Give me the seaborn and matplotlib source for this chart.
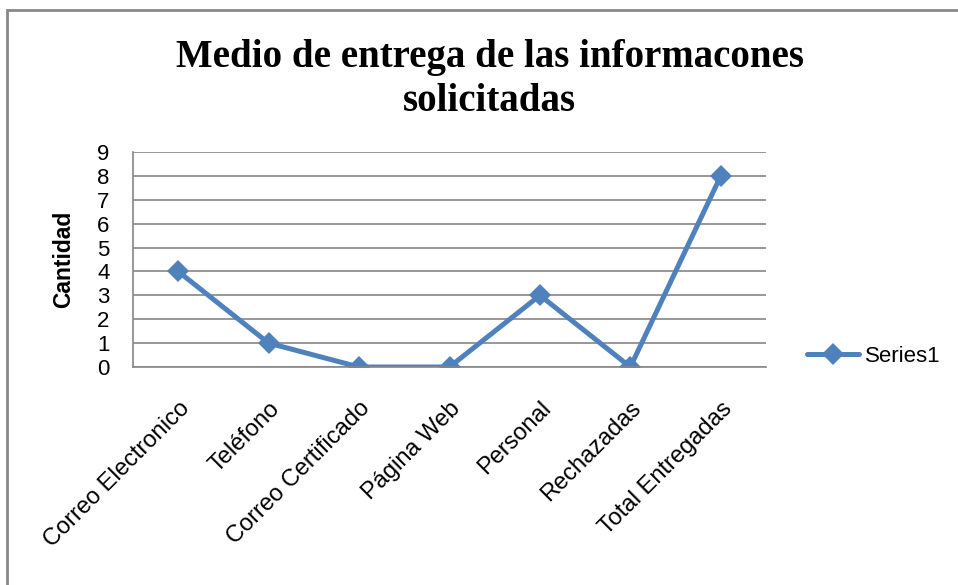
import seaborn as sns
import matplotlib.pyplot as plt
from matplotlib.patches import Rectangle

categorias = ["Correo Electronico", "Teléfono", "Correo Certificado", "Página Web",
              "Personal", "Rechazadas", "Total Entregadas"]
cantidad = [4, 1, 0, 0, 3, 0, 8]

sns.set_style("white")
plt.rcParams['font.family'] = ['Liberation Sans', 'DejaVu Sans']
plt.rcParams.update({"text.color": "black", "axes.labelcolor": "black",
                     "xtick.color": "black", "ytick.color": "black"})

fig = plt.figure(figsize=(9.58, 5.85), dpi=100)
ax = fig.add_axes([133/958, 1 - 367/585, (766 - 133)/958, (367 - 152)/585])

# outer chart border
fig.patches.append(Rectangle((7/958, -0.1), 1.2, 1 - 10/585 + 0.1, transform=fig.transFigure,
                             fill=False, edgecolor="#888888", linewidth=2))

sns.lineplot(x=categorias, y=cantidad, sort=False, ax=ax, color="#4F81BD",
             linewidth=3.6, marker="D", markersize=11, markeredgewidth=0,
             label="Series1")

ax.set_xlim(-0.5, 6.5)
ax.set_ylim(0, 9)
ax.set_yticks(range(0, 10))
ax.yaxis.grid(True, color="#868686", linewidth=1.2)
ax.xaxis.grid(False)
for s in ["top", "right"]:
    ax.spines[s].set_visible(False)
for s in ["left", "bottom"]:
    ax.spines[s].set_color("#868686")
    ax.spines[s].set_linewidth(1.2)
ax.tick_params(axis="y", labelsize=16, length=0, pad=17)
ax.tick_params(axis="x", labelsize=17, length=0, pad=22)
plt.setp(ax.get_xticklabels(), rotation=45, ha="right", rotation_mode="anchor")

ax.set_ylabel("Cantidad", fontsize=16.5, fontweight="bold", labelpad=16)
fig.text(0.511, 0.864, "Medio de entrega de las informacones\nsolicitadas", ha="center",
         va="center", fontsize=28, fontweight="bold", family="Liberation Serif",
         linespacing=1.22)

leg = ax.legend(loc="center left", bbox_to_anchor=(0.822, 1 - 356/585),
                bbox_transform=fig.transFigure, frameon=False, fontsize=16,
                handlelength=2.3, handletextpad=0.3)

fig.savefig("out.png", dpi=100)
